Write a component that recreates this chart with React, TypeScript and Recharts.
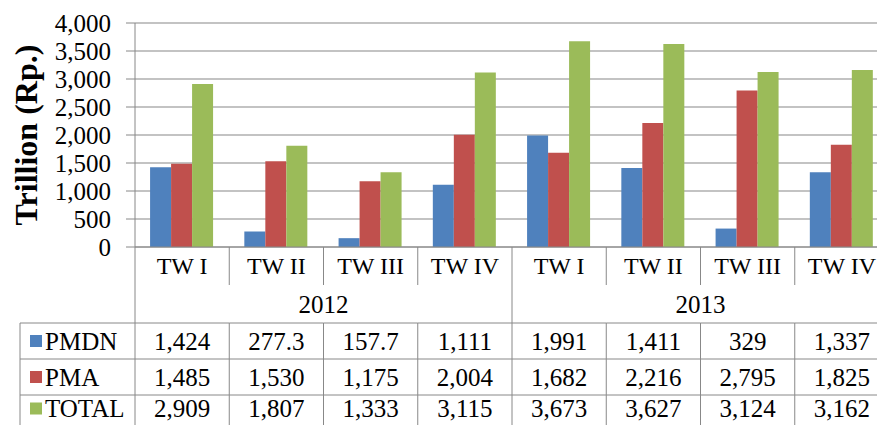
import React from "react";
import { Bar, BarChart, CartesianGrid, XAxis, YAxis } from "recharts";

const quarters = ["TW I", "TW II", "TW III", "TW IV", "TW I", "TW II", "TW III", "TW IV"];
const years = ["2012", "2012", "2012", "2012", "2013", "2013", "2013", "2013"];
const pmdn = [1424, 277.3, 157.7, 1111, 1991, 1411, 329, 1337];
const pma = [1485, 1530, 1175, 2004, 1682, 2216, 2795, 1825];
const total = [2909, 1807, 1333, 3115, 3673, 3627, 3124, 3162];
const yTicks = [0, 500, 1000, 1500, 2000, 2500, 3000, 3500, 4000];

const series = [
  { key: "pmdn", name: "PMDN", values: pmdn, color: "#4F81BD" },
  { key: "pma", name: "PMA", values: pma, color: "#C0504D" },
  { key: "total", name: "TOTAL", values: total, color: "#9BBB59" },
];

const data = quarters.map((q, i) => ({
  q,
  year: years[i],
  pmdn: pmdn[i],
  pma: pma[i],
  total: total[i],
}));

const FONT = "Liberation Serif, DejaVu Serif, serif";
const LINE = "#888888";
const CAT_H = 38;
const YEAR_H = 38;
const ROW_H = [36, 36, 31];
const TABLE_LEFT = 20;
// recharts orders stacked bottom axes by id, so ids carry a prefix
const ROW_IDS = ["c-pmdn", "d-pma", "e-total"];

const fmt = (v: number) => v.toLocaleString("en-US");
const txt = { fontFamily: FONT, fill: "#000" };

function CatTick(props: any) {
  const { x, y, payload, index } = props;
  const off = payload?.offset ?? 47;
  return (
    <g>
      <line x1={x - off} x2={x - off} y1={y} y2={y + CAT_H} stroke={LINE} />
      <text x={x} y={y + CAT_H / 2} textAnchor="middle" dominantBaseline="central"
        style={{ ...txt, fontSize: 24 }}>
        {quarters[index]}
      </text>
    </g>
  );
}

function YearTick(props: any) {
  const { x, y, payload } = props;
  const off = payload?.offset ?? 188;
  return (
    <g>
      <line x1={x - off} x2={x - off} y1={y} y2={y + YEAR_H} stroke={LINE} />
      <text x={x} y={y + YEAR_H / 2} textAnchor="middle" dominantBaseline="central"
        style={{ ...txt, fontSize: 25 }}>
        {payload.value}
      </text>
    </g>
  );
}

function makeRowTick(r: number) {
  const s = series[r];
  const h = ROW_H[r];
  return function RowTick(props: any) {
    const { x, y, payload, index } = props;
    const off = payload?.offset ?? 47;
    const cy = y + Math.min(h, 36) / 2 - (r === series.length - 1 ? 2 : 0);
    return (
      <g>
        <line x1={x - off} x2={x + off} y1={y} y2={y} stroke={LINE} />
        <line x1={x - off} x2={x - off} y1={y} y2={y + h} stroke={LINE} />
        <text x={x} y={cy} textAnchor="middle" dominantBaseline="central"
          style={{ ...txt, fontSize: 25 }}>
          {fmt(s.values[index])}
        </text>
        {index === 0 && (
          <g>
            <line x1={TABLE_LEFT} x2={x - off} y1={y} y2={y} stroke={LINE} />
            <line x1={TABLE_LEFT} x2={TABLE_LEFT} y1={y} y2={y + h} stroke={LINE} />
            <rect x={TABLE_LEFT + 10} y={cy - 6} width={12} height={12} fill={s.color} />
            <text x={TABLE_LEFT + 25} y={cy} dominantBaseline="central"
              style={{ ...txt, fontSize: 25 }}>
              {s.name}
            </text>
          </g>
        )}
      </g>
    );
  };
}

const rowTicks = series.map((_, r) => makeRowTick(r));

function YLabel(props: any) {
  const vb = props?.viewBox;
  const cy = vb ? vb.y + vb.height / 2 : 135;
  return (
    <text transform={`translate(26, ${cy}) rotate(-90)`} textAnchor="middle"
      dominantBaseline="central" style={{ ...txt, fontSize: 32, fontWeight: "bold" }}>
      Trillion (Rp.)
    </text>
  );
}

export default function App() {
  return (
    <div style={{ position: "absolute", left: 0, top: 0, width: 877, height: 425, overflow: "hidden", background: "#fff", fontFamily: FONT }}>
      <BarChart width={900} height={430} data={data}
        margin={{ top: 23, right: 11, bottom: 4, left: 0 }}
        barCategoryGap="16%" barGap={0}>
        <CartesianGrid xAxisId="a-cat" vertical={false} stroke={LINE} strokeWidth={1.2} />
        <YAxis domain={[0, 4000]} ticks={yTicks} width={135} tickFormatter={fmt}
          tickSize={9} tickMargin={15} interval={0}
          axisLine={{ stroke: LINE }} tickLine={{ stroke: LINE }}
          tick={{ style: { ...txt, fontSize: 25 } }}
          label={{ content: (p: any) => <YLabel {...p} /> }} />
        <XAxis xAxisId="a-cat" dataKey="q" height={CAT_H} interval={0}
          tickSize={0} tickMargin={0} tickLine={false}
          axisLine={{ stroke: LINE }} tick={(p: any) => <CatTick {...p} />} />
        <XAxis xAxisId="b-year" dataKey="year" allowDuplicatedCategory={false} height={YEAR_H}
          interval={0} tickSize={0} tickMargin={0} tickLine={false} axisLine={false}
          tick={(p: any) => <YearTick {...p} />} />
        {series.map((s, r) => (
          <XAxis key={s.key} xAxisId={ROW_IDS[r]} dataKey="q" height={ROW_H[r]}
            interval={0} tickSize={0} tickMargin={0} tickLine={false} axisLine={false}
            tick={(p: any) => rowTicks[r](p)} />
        ))}
        {series.map((s) => (
          <Bar key={s.key} xAxisId="a-cat" dataKey={s.key} name={s.name} fill={s.color}
            isAnimationActive={false} />
        ))}
      </BarChart>
    </div>
  );
}
